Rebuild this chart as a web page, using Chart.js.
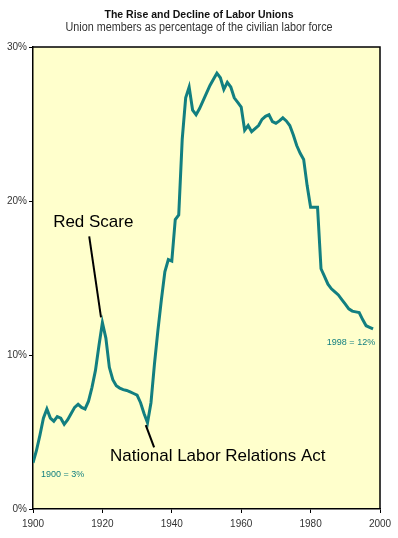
<!DOCTYPE html>
<html>
    <head>
        <title>Labor Unions</title>
        <script src="https://cdn.jsdelivr.net/npm/chart.js@4/dist/chart.umd.min.js"></script>
        <style>
            html, body { margin: 0; padding: 0; background: #fff; }
            #wrap { width: 398px; height: 538px; }
        </style>
    </head>
    <body>
        <div id="wrap"><canvas id="plot1"></canvas></div>

        <script>
            // union members, % of civilian labor force, one value per year from 1900
            const firstYear = 1900
            const unionShare = [
                3.0, 3.8, 4.8, 5.9, 6.5, 5.9, 5.7, 6.0, 5.9, 5.5,
                5.8, 6.2, 6.6, 6.8, 6.6, 6.5, 7.0, 7.9, 9.0, 10.6,
                12.1, 11.1, 9.2, 8.4, 8.0, 7.85, 7.75, 7.7, 7.6, 7.5,
                7.4, 6.9, 6.2, 5.6, 6.9, 9.4, 11.6, 13.6, 15.4, 16.2,
                16.1, 18.8, 19.1, 24.0, 26.7, 27.4, 25.9, 25.6, 26.0, 26.5,
                27.0, 27.5, 27.9, 28.3, 28.0, 27.25, 27.7, 27.4, 26.7, 26.4,
                26.1, 24.6, 24.9, 24.5, 24.7, 24.9, 25.3, 25.5, 25.6, 25.15,
                25.05, 25.2, 25.4, 25.2, 24.9, 24.3, 23.6, 23.1, 22.7, 21.0,
                19.6, 19.6, 19.6, 15.6, 15.1, 14.6, 14.3, 14.1, 13.9, 13.6,
                13.3, 13.0, 12.85, 12.8, 12.75, 12.3, 11.9, 11.8, 11.7,
            ]
            const xTicks = [1900, 1920, 1940, 1960, 1980, 2000]
            const yTicks = [0, 10, 20, 30]

            const titleText = 'The Rise and Decline of Labor Unions'
            const subtitleText = 'Union members as percentage of the civilian labor force'

            // callouts, placed in data units (year, percent)
            const callouts = [
                { text: 'Red Scare', x: 1905.8, y: 18.3, from: [1916.2, 17.7], to: [1919.6, 12.45] },
                { text: 'National Labor Relations Act', x: 1922.2, y: 3.1, from: [1932.5, 5.45], to: [1934.9, 4.0] },
            ]
            const endLabels = [
                { text: '1900 = 3%', x: 1902.3, y: 2.27, align: 'left' },
                { text: '1998 = 12%', x: 1998.6, y: 10.8, align: 'right' },
            ]

            const teal = '#127f80'
            const points = unionShare.map((v, i) => ({ x: firstYear + i, y: v }))

            const decor = {
                id: 'decor',
                beforeDraw(chart) {
                    const { ctx, chartArea: a } = chart
                    ctx.save()
                    ctx.fillStyle = '#ffffcc'
                    ctx.fillRect(a.left, a.top, a.right - a.left, a.bottom - a.top)
                    ctx.restore()
                },
                afterDraw(chart) {
                    const { ctx, chartArea: a } = chart
                    const sx = chart.scales.x
                    const sy = chart.scales.y
                    ctx.save()
                    // box round the plot
                    ctx.strokeStyle = '#000'
                    ctx.lineWidth = 1.5
                    ctx.beginPath()
                    ctx.moveTo(a.left, a.top)
                    ctx.lineTo(a.right, a.top)
                    ctx.lineTo(a.right, a.bottom)
                    ctx.stroke()

                    // titles
                    const cx = chart.width / 2
                    ctx.textAlign = 'center'
                    ctx.textBaseline = 'middle'
                    ctx.fillStyle = '#111'
                    ctx.font = 'bold 10.5px "Liberation Sans", Arial, sans-serif'
                    ctx.fillText(titleText, cx, 15)
                    // subtitle is a narrow face in the original, squeeze it a bit
                    ctx.save()
                    ctx.translate(cx, 28)
                    ctx.scale(0.9, 1)
                    ctx.fillStyle = '#333'
                    ctx.font = '12px "Liberation Sans", Arial, sans-serif'
                    ctx.fillText(subtitleText, 0, 0)
                    ctx.restore()

                    // callouts
                    ctx.fillStyle = '#000'
                    ctx.textAlign = 'left'
                    ctx.textBaseline = 'alphabetic'
                    ctx.font = '17px "Liberation Sans", Arial, sans-serif'
                    ctx.lineWidth = 2
                    callouts.forEach(c => {
                        ctx.fillText(c.text, sx.getPixelForValue(c.x), sy.getPixelForValue(c.y))
                        ctx.beginPath()
                        ctx.moveTo(sx.getPixelForValue(c.from[0]), sy.getPixelForValue(c.from[1]))
                        ctx.lineTo(sx.getPixelForValue(c.to[0]), sy.getPixelForValue(c.to[1]))
                        ctx.stroke()
                    })

                    ctx.fillStyle = teal
                    ctx.textBaseline = 'middle'
                    ctx.font = '9px "Liberation Sans", Arial, sans-serif'
                    endLabels.forEach(l => {
                        ctx.textAlign = l.align
                        ctx.fillText(l.text, sx.getPixelForValue(l.x), sy.getPixelForValue(l.y))
                    })
                    ctx.restore()
                },
            }

            const tickFont = { family: '"Liberation Sans", Arial, sans-serif', size: 10 }

            new Chart(document.getElementById('plot1'), {
                type: 'line',
                data: {
                    datasets: [
                        {
                            data: points,
                            borderColor: teal,
                            borderWidth: 3,
                            pointRadius: 0,
                            tension: 0,
                            fill: false,
                        },
                    ],
                },
                options: {
                    responsive: true,
                    maintainAspectRatio: false,
                    animation: false,
                    layout: { padding: { top: 47, right: 18, left: 0, bottom: 0 } },
                    plugins: {
                        legend: { display: false },
                        tooltip: { enabled: false },
                    },
                    scales: {
                        x: {
                            type: 'linear',
                            min: 1900,
                            max: 2000,
                            afterBuildTicks: s => { s.ticks = xTicks.map(v => ({ value: v })) },
                            afterFit: s => { s.height = 29 },
                            border: { color: '#000', width: 1.5 },
                            grid: { drawOnChartArea: false, drawTicks: true, tickLength: 4, color: '#000' },
                            ticks: {
                                color: '#333',
                                font: tickFont,
                                padding: 5,
                                maxRotation: 0,
                                callback: v => String(v),
                            },
                        },
                        y: {
                            min: 0,
                            max: 30,
                            afterBuildTicks: s => { s.ticks = yTicks.map(v => ({ value: v })) },
                            afterFit: s => { s.width = 33 },
                            border: { color: '#000', width: 1.5 },
                            grid: { drawOnChartArea: false, drawTicks: true, tickLength: 4, color: '#000' },
                            ticks: {
                                color: '#333',
                                font: tickFont,
                                padding: 2,
                                callback: v => v + '%',
                            },
                        },
                    },
                },
                plugins: [decor],
            })
        </script>
    </body>
</html>
